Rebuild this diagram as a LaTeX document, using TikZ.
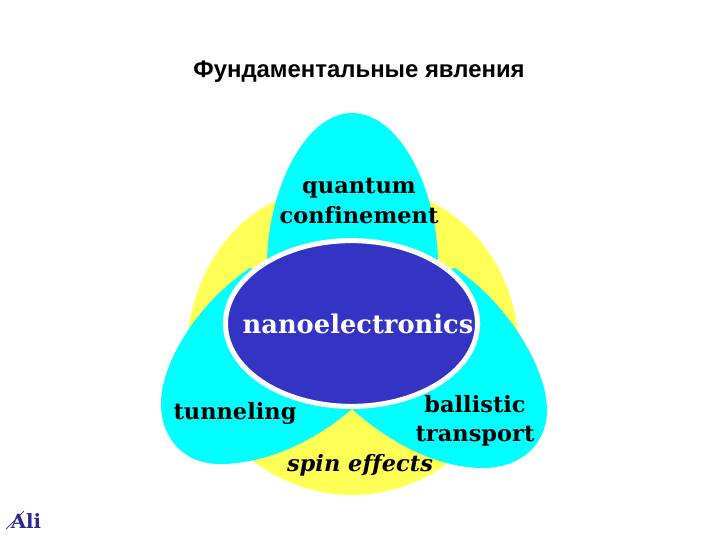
\documentclass[tikz,border=0pt]{standalone}
\usepackage{fontspec}
\setmainfont[Ligatures=NoCommon]{DejaVu Serif}
\newfontfamily\titlefont{Liberation Sans}
\usetikzlibrary{shapes.geometric}
\definecolor{petalcyan}{HTML}{00FFFF}
\definecolor{petalyellow}{HTML}{FFFF55}
\definecolor{corebg}{HTML}{3333C4}
\definecolor{logoblue}{HTML}{2A2A90}
\begin{document}
\begin{tikzpicture}[x=0.025cm, y=-0.025cm, line join=round, line cap=round,
    petallabel/.style={font=\fontsize{16}{20}\selectfont\bfseries, align=center, text=black},
    core/.style={ellipse, draw=white, line width=3.6pt, fill=corebg, inner sep=0pt, minimum width=8.82cm/1.4, minimum height=5.8cm/1.4}]
    \useasboundingbox (0,0) rectangle (720,540);
    % back petals
    \fill[petalyellow] (188,332) .. controls (196,270) and (232,215) .. (290,195)
        -- (415,195) .. controls (470,215) and (510,265) .. (518,332)
        -- (452,460) .. controls (420,485) and (385,495) .. (352,495)
        .. controls (315,495) and (280,482) .. (252,460) -- cycle;
    % front petals
    \fill[petalcyan] (267,262) .. controls (268,190) and (305,113) .. (352,113)
        .. controls (400,113) and (438,190) .. (438,265) -- cycle;
    \fill[petalcyan] (352,409) .. controls (310,445) and (262,464) .. (220,464)
        .. controls (185,464) and (161,440) .. (161,403)
        .. controls (161,365) and (195,305) .. (250,268) -- (352,300) -- cycle;
    \fill[petalcyan] (352,409) .. controls (392,445) and (440,468) .. (483,468)
        .. controls (520,468) and (547,445) .. (547,410)
        .. controls (547,370) and (510,305) .. (455,268) -- (352,300) -- cycle;
    \node[core] (core) at (351.5,323.5) {};
    % labels
    \node[font=\titlefont\fontsize{17}{20}\selectfont\bfseries] (title) at (359,72) {Фундаментальные явления};
    \node[petallabel, text=white, font=\fontsize{18.3}{20}\selectfont\bfseries] (nano) at (358,324) {nanoelectronics};
    \node[petallabel] (quantum) at (359,201) {quantum\\[1pt]confinement};
    \node[petallabel] (tunneling) at (235,413) {tunneling};
    \node[petallabel] (ballistic) at (475,421) {ballistic\\[1pt]transport};
    \node[petallabel, font=\fontsize{16}{20}\selectfont\bfseries\itshape] (spin) at (360,465) {spin effects};
    % logo
    \node[inner sep=0pt, text=logoblue, font=\fontsize{14}{14}\selectfont\bfseries] (logo) at (26,521) {Ali};
    \draw[logoblue, line width=0.5pt] (6,529) -- (24,511);
\end{tikzpicture}
\end{document}
